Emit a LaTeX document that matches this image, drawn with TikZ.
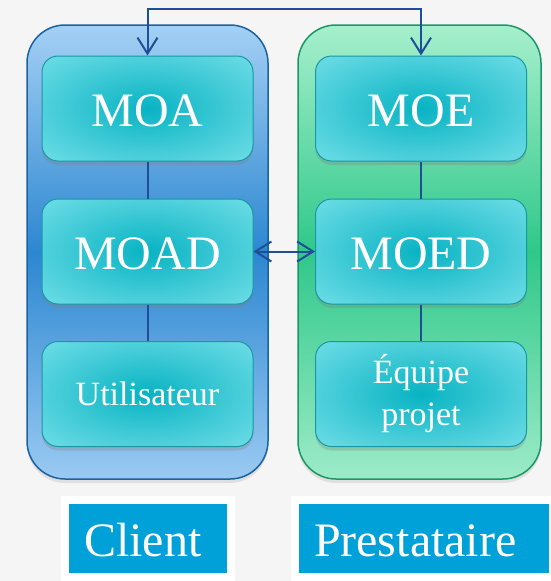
\documentclass[tikz,border=0pt]{standalone}
\usepackage{fontspec}
\setmainfont{Liberation Serif}
\usetikzlibrary{arrows.meta,shadows}
\definecolor{bgpaper}{HTML}{F5F5F5}
\definecolor{clienttop}{HTML}{A4D0F4}
\definecolor{clientmid}{HTML}{2C87D1}
\definecolor{clientbot}{HTML}{9ACAF2}
\definecolor{clientline}{HTML}{1B62A0}
\definecolor{prestop}{HTML}{A6EFCD}
\definecolor{presmid}{HTML}{2FC88A}
\definecolor{presbot}{HTML}{9DEBC8}
\definecolor{presline}{HTML}{1E9668}
\definecolor{boxmid}{HTML}{08B3C3}
\definecolor{boxedge}{HTML}{96EEF4}
\definecolor{boxline}{HTML}{1898A4}
\definecolor{linkblue}{HTML}{1D4E96}
\definecolor{tagblue}{HTML}{00A0D8}
\pgfdeclareradialshading{boxglow}{\pgfpoint{0bp}{0bp}}{color(0bp)=(boxmid); color(22bp)=(boxmid!55!boxedge); color(50bp)=(boxedge)}
\tikzset{
panel/.style={line width=1.5pt, rounded corners=38pt, minimum width=241pt, minimum height=454pt,
  drop shadow={opacity=0.18, shadow xshift=0pt, shadow yshift=-4pt}},
clientpanel/.style={panel, draw=clientline, top color=clienttop, bottom color=clientbot, middle color=clientmid},
prespanel/.style={panel, draw=presline, top color=prestop, bottom color=presbot, middle color=presmid},
bigtext/.style={font=\fontsize{48}{52}\selectfont, text height=35pt, text depth=0pt},
smalltext/.style={font=\fontsize{34}{42}\selectfont, align=center},
rolebox/.style={draw=boxline, line width=1pt, rounded corners=16pt, shading=boxglow, text=white,
  minimum width=211pt, minimum height=105pt, drop shadow={opacity=0.3, shadow xshift=0pt, shadow yshift=-4pt}},
tag/.style={bigtext, fill=tagblue, draw=white, line width=8pt, text=white, minimum height=77pt,
  inner xsep=19pt, align=left},
link/.style={draw=linkblue, line width=2pt},
barb/.style={{Straight Barb[length=16pt,width=20pt]}-{Straight Barb[length=16pt,width=20pt]}}
}
\begin{document}
\begin{tikzpicture}[x=1pt,y=-1pt]
\path[use as bounding box, fill=bgpaper] (0,0) rectangle (551,581);

\node[clientpanel] (clientside) at (147.5,252) {};
\node[prespanel, minimum width=243pt] (presside) at (419.5,252) {};

\node[rolebox, bigtext] (moa) at (147.5,108.5) {MOA};
\node[rolebox, bigtext] (moad) at (147.5,251.5) {MOAD};
\node[rolebox, smalltext] (user) at (147.5,394) {Utilisateur};
\node[rolebox, bigtext] (moe) at (421,108.5) {MOE};
\node[rolebox, bigtext] (moed) at (421,251.5) {MOED};
\node[rolebox, smalltext] (team) at (421,394) {Équipe\\projet};

\coordinate (topline) at (285,9);
\draw[link] (moa) -- (moad) -- (user);
\draw[link] (moe) -- (moed) -- (team);
\draw[link, barb] (moa.north) |- (topline) -| (moe.north);
\draw[link, barb] (moad.east) -- (moed.west);

\node[tag, minimum width=166pt, text width=128pt] (client) at (148,538.5) {Client};
\node[tag, minimum width=258pt, text width=220pt] (prestataire) at (424,538.5) {Prestataire};
\end{tikzpicture}
\end{document}
